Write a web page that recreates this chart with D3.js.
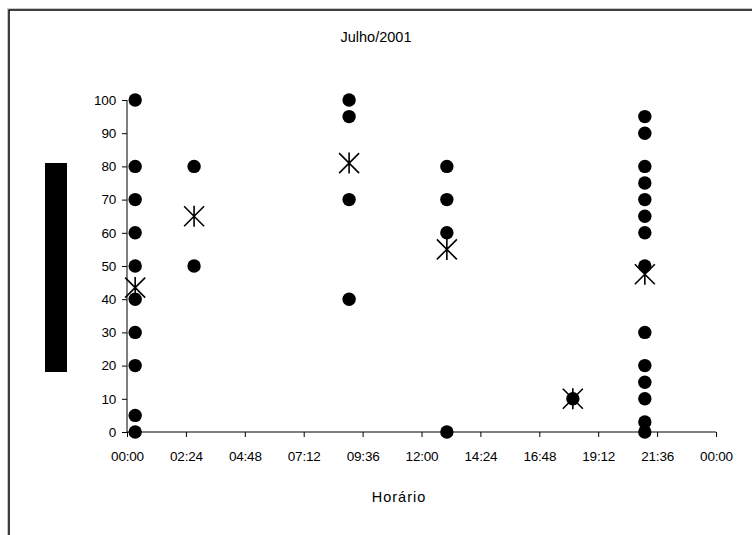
<!DOCTYPE html>
<html><head><meta charset="utf-8">
<script src="https://cdn.jsdelivr.net/npm/d3@7"></script>
<style>html,body{margin:0;padding:0;background:#fff;}svg{display:block;font-family:"Liberation Sans",Arial,sans-serif;}</style>
</head><body>
<script>
// Observations: time of day (HH:MM) and value
const obsTimes = ["00:20","00:20","00:20","00:20","00:20","00:20","00:20","00:20","00:20","00:20",
  "02:44","02:44",
  "09:03","09:03","09:03","09:03",
  "13:02","13:02","13:02","13:02",
  "18:10",
  "21:06","21:06","21:06","21:06","21:06","21:06","21:06","21:06","21:06","21:06","21:06","21:06","21:06","21:06"];
const obsValues = [100,80,70,60,50,40,30,20,5,0,
  80,50,
  100,95,70,40,
  80,70,60,0,
  10,
  95,90,80,75,70,65,60,50,30,20,15,10,3,0];
// Means per time (star markers)
const meanTimes = ["00:20","02:44","09:03","13:02","18:10","21:06"];
const meanValues = [43.5,65,81,55,10,47.5];
const xTickLabels = ["00:00","02:24","04:48","07:12","09:36","12:00","14:24","16:48","19:12","21:36","00:00"];
const yTicks = [0,10,20,30,40,50,60,70,80,90,100];
const title = "Julho/2001";
const xTitle = "Horário";

const W = 752, H = 535;
const FONT = '"Liberation Sans",Arial,sans-serif';
const toDay = s => { const [h,m] = s.split(":").map(Number); return (h*60+m)/1440; };

const svg = d3.select("body").append("svg").attr("width", W).attr("height", H);

// outer chart border (extends off canvas right/bottom)
svg.append("rect").attr("x", 7.5).attr("y", 8.5).attr("width", W).attr("height", H)
  .attr("fill", "none").attr("stroke", "#c8c8c8").attr("stroke-width", 1);
svg.append("rect").attr("x", 9).attr("y", 10).attr("width", W).attr("height", H)
  .attr("fill", "#fff").attr("stroke", "#000").attr("stroke-width", 1.5);

const x = d3.scaleLinear().domain([0, 1]).range([127, 716]);
const y = d3.scaleLinear().domain([0, 100]).range([432, 100]);

// y axis
const yAxis = d3.axisLeft(y).tickValues(yTicks).tickSize(5).tickPadding(6);
const gy = svg.append("g").attr("transform", `translate(${x(0)},0)`).call(yAxis);
// x axis
const xAxis = d3.axisBottom(x).tickValues(d3.range(xTickLabels.length).map(i => i/10))
  .tickFormat((d,i) => xTickLabels[i]).tickSize(5).tickPadding(14);
const gx = svg.append("g").attr("transform", `translate(0,${y(0)})`).call(xAxis);
[gx, gy].forEach(g => {
  g.attr("font-size", null).attr("font-family", null);
  g.select(".domain").attr("stroke", "#000").attr("stroke-width", 1);
  g.selectAll(".tick line").attr("stroke", "#000");
  g.selectAll(".tick text").attr("fill", "#000")
    .style("font-size", "13.5px").style("font-family", FONT).attr("letter-spacing", -0.2);
});
gy.select(".domain").attr("d", `M0,${y(0)}V${y(100)}`);
gx.select(".domain").attr("d", `M${x(0)},0H${x(1)}`);

// titles
svg.append("text").attr("x", 376).attr("y", 42).attr("text-anchor", "middle")
  .style("font-size", "14.5px").style("font-family", FONT).text(title);
svg.append("text").attr("x", 399).attr("y", 502).attr("text-anchor", "middle")
  .style("font-size", "14.5px").style("font-family", FONT).attr("letter-spacing", 1).text(xTitle);

// y axis title box (rendered as solid black block in reference)
svg.append("rect").attr("x", 45).attr("y", 163).attr("width", 22).attr("height", 209).attr("fill", "#000");

// observation dots
svg.append("g").selectAll("circle").data(obsValues).join("circle")
  .attr("cx", (d,i) => x(toDay(obsTimes[i])))
  .attr("cy", d => y(d))
  .attr("r", 6.7).attr("fill", "#000");

// mean star markers
const s = 10;
svg.append("g").selectAll("path").data(meanValues).join("path")
  .attr("d", (d,i) => {
    const cx = x(toDay(meanTimes[i])), cy = y(d);
    return `M${cx-s},${cy-s}L${cx+s},${cy+s}M${cx-s},${cy+s}L${cx+s},${cy-s}M${cx},${cy-s-0.5}V${cy+s+0.5}`;
  })
  .attr("stroke", "#000").attr("stroke-width", 1.6).attr("fill", "none");
</script>
</body></html>
